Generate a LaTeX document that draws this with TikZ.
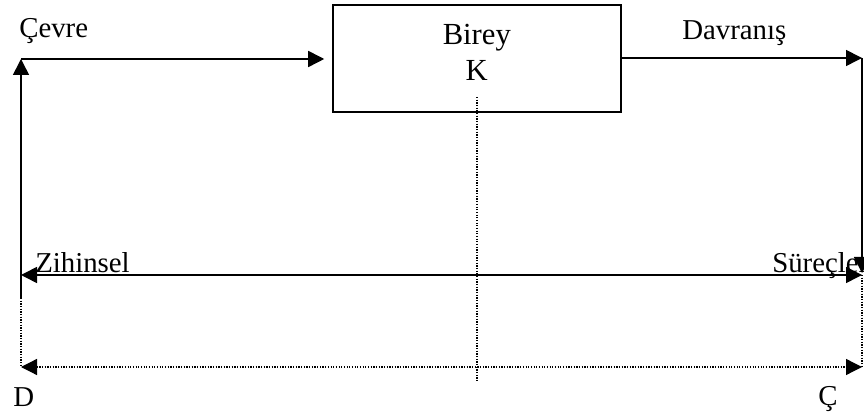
\documentclass[tikz,border=0pt]{standalone}
\usepackage{fontspec}
\setmainfont{Liberation Serif}
\usetikzlibrary{arrows.meta}

\tikzset{
  lbl/.style={font=\fontsize{20.5}{24}\selectfont, inner sep=0pt, anchor=base west},
  boxtxt/.style={font=\fontsize{21.8}{26}\selectfont, inner sep=0pt, anchor=base},
  flow/.style={line width=1.1pt, -{Triangle[length=0.4cm, width=0.4cm]}},
  both/.style={line width=1.1pt, {Triangle[length=0.4cm, width=0.4cm]}-{Triangle[length=0.4cm, width=0.4cm]}},
  dots/.style={line width=0.9pt, densely dotted}
}

\begin{document}
\begin{tikzpicture}
  \useasboundingbox (0,0) rectangle (21.6,10.4);

  % Birey
  \node[draw, line width=1.1pt, minimum width=7.2cm, minimum height=2.675cm] (birey) at (11.925,8.9375) {};
  \node[boxtxt] (bireytxt) at (11.92,9.29) {Birey};
  \node[boxtxt] (k) at (11.92,8.38) {K};

  % Corners
  \coordinate (tl) at (0.525,8.925);
  \coordinate (tr) at (21.55,8.95);
  \coordinate (ml) at (0.525,3.525);
  \coordinate (mr) at (21.55,3.525);
  \coordinate (lb) at (0.525,2.95);
  \coordinate (rd) at (21.55,3.575);
  \coordinate (bl) at (0.525,1.225);
  \coordinate (br) at (21.55,1.225);
  \coordinate (kt) at (11.925,7.975);
  \coordinate (kb) at (11.925,0.85);

  % Labels
  \node[lbl] (cevre) at (0.475,9.46) {Çevre};
  \node[lbl] (davranis) at (17.05,9.4) {Davranış};
  \node[lbl] (zihinsel) at (0.875,3.58) {Zihinsel};
  \node[lbl] (surecler) at (19.3,3.58) {Süreçler};
  \node[lbl] (d) at (0.325,0.23) {D};
  \node[lbl] (c) at (20.45,0.27) {Ç};

  % Solid arrows
  \draw[flow] (lb) -- (tl);
  \draw[flow, shorten >=0.2cm] (tl) -- (tl -| birey.west);
  \draw[flow] (birey.east |- tr) -- (tr);
  \draw[flow] (tr) -- (rd);
  \draw[both] (ml) -- (mr);

  % Dotted lines
  \draw[dots] (lb) -- (bl);
  \draw[dots] (mr) -- (br);
  \draw[dots, {Triangle[length=0.4cm, width=0.4cm]}-{Triangle[length=0.4cm, width=0.4cm]}] (bl) -- (br);
  \draw[dots] (kt) -- (kb);
\end{tikzpicture}
\end{document}
